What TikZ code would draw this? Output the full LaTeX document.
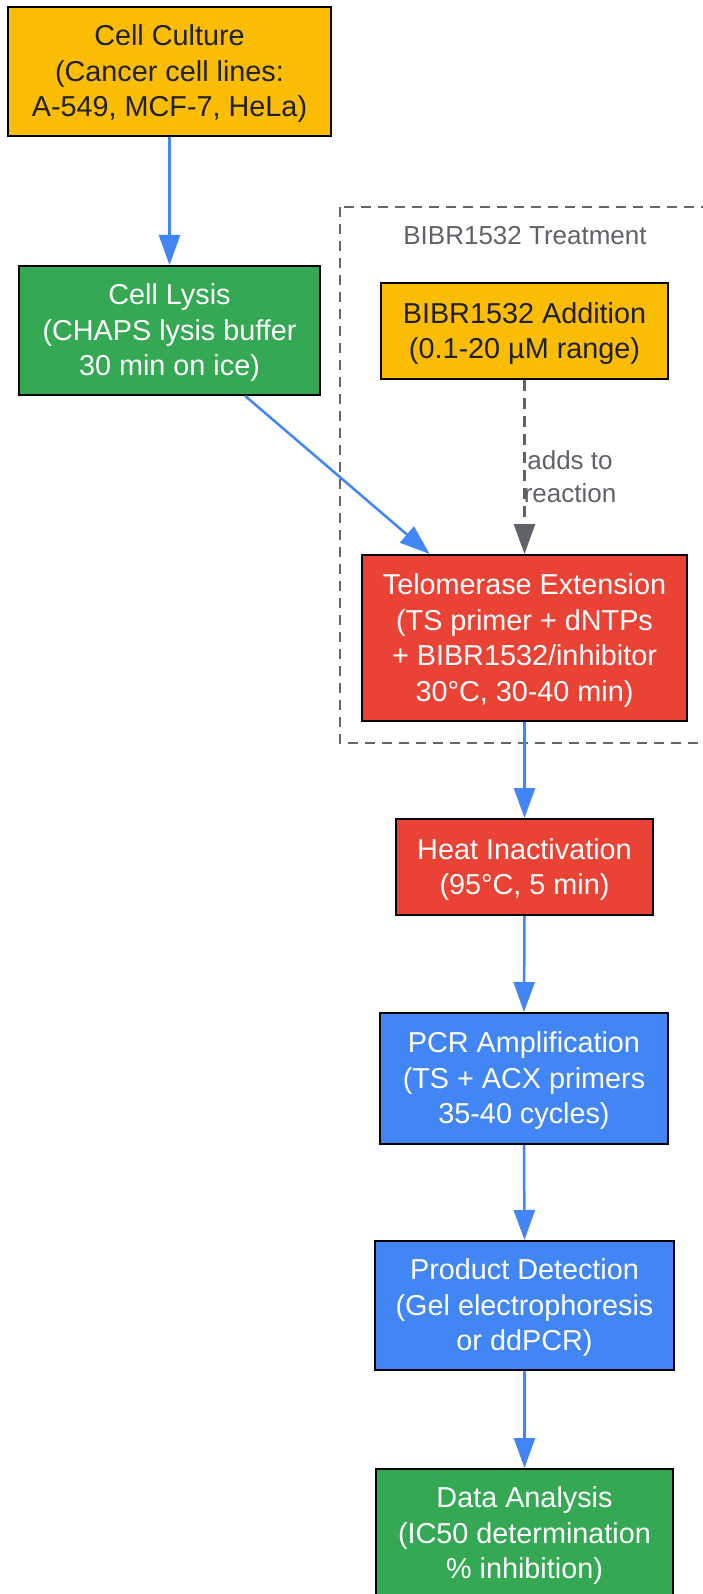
\documentclass[tikz,border=0pt]{standalone}
\usepackage{fontspec}
\setmainfont{Liberation Sans}
\usetikzlibrary{arrows.meta,calc}
\definecolor{gyellow}{HTML}{FBBC04}
\definecolor{ggreen}{HTML}{34A853}
\definecolor{gred}{HTML}{EA4335}
\definecolor{gblue}{HTML}{4285F4}
\definecolor{gdark}{HTML}{202124}
\definecolor{ggray}{HTML}{5F6368}
\definecolor{cgray}{HTML}{666666}
\tikzset{
  procbox/.style={draw=black, line width=2pt, inner sep=0pt},
  boxtext/.style={align=center, inner sep=0pt, font=\fontsize{28.8}{35.5}\selectfont},
  darktext/.style={boxtext, text=gdark},
  lighttext/.style={boxtext, text=white},
  yellowbox/.style={procbox, fill=gyellow},
  greenbox/.style={procbox, fill=ggreen},
  redbox/.style={procbox, fill=gred},
  bluebox/.style={procbox, fill=gblue},
  flow/.style={draw=gblue, line width=2.5pt, -{Triangle[length=30pt,width=21pt]}},
  dflow/.style={draw=ggray, line width=2.5pt, dash pattern=on 11pt off 7pt,
    -{Triangle[length=30pt,width=21pt]}},
  smalltext/.style={text=ggray, align=center, inner sep=0pt,
    font=\fontsize{26}{33}\selectfont},
}
\begin{document}
\begin{tikzpicture}[x=1pt,y=-1pt]
\useasboundingbox (0,0) rectangle (702,1594);
\fill[white] (0,0) rectangle (702,1594);

% cluster
\draw[cgray, line width=2pt, dash pattern=on 10pt off 7pt] (340,207) rectangle (712,743);
\node[smalltext] (clabel) at (525,236) {BIBR1532 Treatment};

\node[yellowbox, minimum width=323pt, minimum height=129pt] (cc) at (169.5,71.5) {};
\node[darktext] (cct) at ([yshift=-2.5pt]cc.center) {Cell Culture\\(Cancer cell lines:\\A-549, MCF-7, HeLa)};
\node[greenbox, minimum width=301pt, minimum height=129pt] (cl) at (169.5,330.5) {};
\node[lighttext] (clt) at ([yshift=-2.5pt]cl.center) {Cell Lysis\\(CHAPS lysis buffer\\30 min on ice)};
\node[yellowbox, minimum width=287pt, minimum height=96pt] (ba) at (524.5,331) {};
\node[darktext] (bat) at ([yshift=-2.5pt]ba.center) {BIBR1532 Addition\\(0.1-20 µM range)};
\node[redbox, minimum width=325pt, minimum height=166pt] (te) at (524.5,638) {};
\node[lighttext] (tet) at ([yshift=-2.5pt]te.center) {Telomerase Extension\\(TS primer + dNTPs\\+ BIBR1532/inhibitor\\30°C, 30-40 min)};
\node[redbox, minimum width=257pt, minimum height=96pt] (hi) at (524.5,867) {};
\node[lighttext] (hit) at ([yshift=-2.5pt]hi.center) {Heat Inactivation\\(95°C, 5 min)};
\node[bluebox, minimum width=288pt, minimum height=131pt] (pcr) at (524,1078.5) {};
\node[lighttext] (pcrt) at ([yshift=-2.5pt]pcr.center) {PCR Amplification\\(TS + ACX primers\\35-40 cycles)};
\node[bluebox, minimum width=299pt, minimum height=129pt] (pd) at (524.5,1305.5) {};
\node[lighttext] (pdt) at ([yshift=-2.5pt]pd.center) {Product Detection\\(Gel electrophoresis\\or ddPCR)};
\node[greenbox, minimum width=297pt, minimum height=129pt] (da) at (524.5,1533.5) {};
\node[lighttext] (dat) at ([yshift=-2.5pt]da.center) {Data Analysis\\(IC50 determination\\\% inhibition)};

\draw[flow] (cc.south) -- (cl.north);
\draw[flow] ($(cl.south)!0.5!(cl.south east)$) -- ($(te.north west)!0.42!(te.north)$);
\draw[dflow] (ba.south) -- (te.north);
\node[smalltext] (lbl) at (570,476.5) {adds to\\reaction};
\draw[flow] (te.south) -- (hi.north);
\draw[flow] (hi.south) -- (pcr.north);
\draw[flow] (pcr.south) -- (pd.north);
\draw[flow] (pd.south) -- (da.north);
\end{tikzpicture}
\end{document}
